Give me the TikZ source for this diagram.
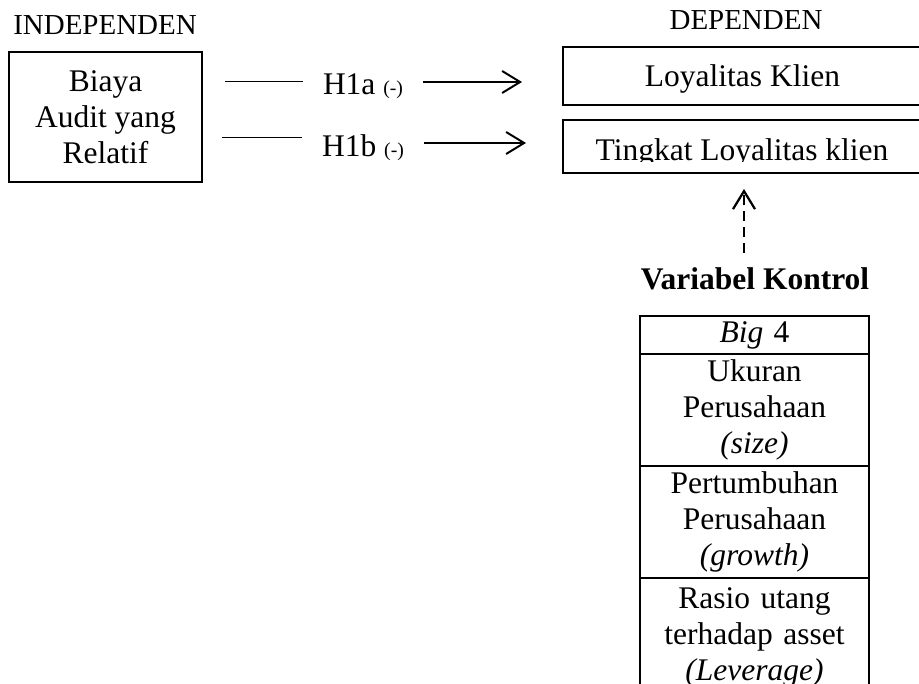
\documentclass[tikz,border=0pt]{standalone}
\usepackage{fontspec}
\setmainfont{Liberation Serif}
\usetikzlibrary{arrows.meta}
\newcommand{\bodysize}{\fontsize{22.4}{25.6}\selectfont}
\newcommand{\headsize}{\fontsize{20.6}{24}\selectfont}
\newcommand{\signsize}{\fontsize{14}{16}\selectfont}

\begin{document}
\begin{tikzpicture}[
  font=\bodysize,
  box/.style={draw,line width=1.4pt,inner sep=0pt,align=center},
  hyp/.style={anchor=base,inner xsep=.5cm,inner ysep=0pt},
  link/.style={line width=.7pt},
  arr/.style={line width=1.4pt,-{Straight Barb[length=4.5mm,width=5.5mm]}},
  cell/.style={draw,line width=1.4pt,anchor=north,inner sep=0pt,
    minimum width=5.725cm,text width=5.6cm,align=center}
]
\useasboundingbox (0,0) rectangle (22.975,17.1);
% headings
\node[anchor=base,font=\headsize] (indep) at (2.625,16.225) {INDEPENDEN};
\node[anchor=base,font=\headsize] (dep) at (18.65,16.35) {DEPENDEN};
% independent variable
\node[box,minimum width=4.825cm,minimum height=3.25cm] (biaya) at (2.6375,14.175)
  {Biaya\\Audit yang\\Relatif};
% dependent variables
\node[box,minimum width=8.975cm,minimum height=1.45cm,text depth=0pt] (loyal) at (18.5625,15.2)
  {Loyalitas Klien};
\node[box,minimum width=8.975cm,minimum height=1.325cm] (tingkat) at (18.5625,13.4375) {};
\begin{scope}
\clip (14,13.06) rectangle (23.5,14.1);
\node[anchor=base,inner sep=0pt] (tingkattxt) at (18.55,13.075) {Tingkat Loyalitas klien};
\end{scope}
% hypotheses
\node[hyp] (h1a) at (9.075,14.725) {H1a {\signsize(-)}};
\node[hyp] (h1b) at (9.075,13.175) {H1b {\signsize(-)}};
\coordinate (la) at (5.625,15.05);
\coordinate (ra) at (13.05,15.05);
\coordinate (lb) at (5.55,13.65);
\coordinate (rb) at (13.15,13.525);
\draw[link] (la) -- (la -| h1a.west);
\draw[arr] (ra -| h1a.east) -- (ra);
\draw[link] (lb) -- (lb -| h1b.west);
\draw[arr] (rb -| h1b.east) -- (rb);
% control variables
\coordinate (ctrl) at (18.6,10.775);
\draw[line width=1.6pt,dash pattern=on 7pt off 4.3pt,-{Straight Barb[length=4.5mm,width=5.5mm]},
  shorten >=3.75mm] (ctrl) -- (ctrl |- tingkat.south);
\node[anchor=base,font=\bodysize\bfseries] (kontrol) at (18.875,9.85) {Variabel Kontrol};
\node[cell,minimum height=.95cm] (big) at (18.8625,9.225) {\textit{Big} 4};
\node[cell,minimum height=2.8cm] (size) at (18.8625,8.275)
  {Ukuran\\Perusahaan\\\textit{(size)}};
\node[cell,minimum height=2.8cm] (growth) at (18.8625,5.475)
  {Pertumbuhan\\Perusahaan\\\textit{(growth)}};
\node[cell,minimum height=2.95cm] (lev) at (18.8625,2.675)
  {Rasio utang\\terhadap asset\\\textit{(Leverage)}};
\end{tikzpicture}
\end{document}
